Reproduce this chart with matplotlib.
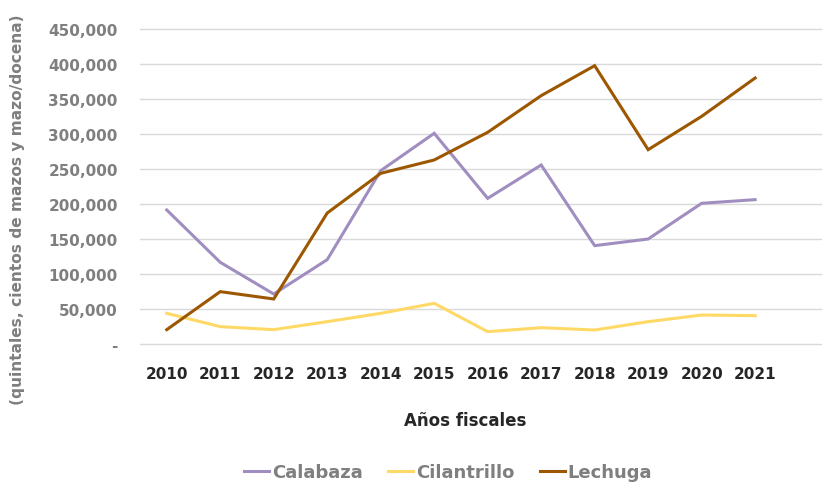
import matplotlib
matplotlib.use("Agg")
import matplotlib.pyplot as plt
from matplotlib.ticker import FuncFormatter

# Series data (fiscal years)
years = ["2010", "2011", "2012", "2013", "2014", "2015",
         "2016", "2017", "2018", "2019", "2020", "2021"]
calabaza = [191500, 116700, 71400, 120500, 247600, 301000,
            208100, 255700, 140500, 150000, 201000, 206200]
cilantrillo = [43800, 24800, 20500, 31900, 43800, 58100,
               17600, 23300, 20000, 31900, 41400, 40500]
lechuga = [20500, 74800, 64300, 187100, 243800, 262900,
           302400, 354800, 397600, 277600, 325200, 380000]

series_names = ["Calabaza", "Cilantrillo", "Lechuga"]
series_colors = ["#A08EC0", "#FFD966", "#9C5700"]

plt.rcParams["font.family"] = ["DejaVu Sans"]
plt.rcParams["font.weight"] = "bold"

fig = plt.figure(figsize=(8.22, 4.85), dpi=100)
ax = fig.add_axes([140 / 822, 1 - 345 / 485, 1 - 140 / 822, 315 / 485])

x = list(range(len(years)))
for vals, name, color in zip([calabaza, cilantrillo, lechuga], series_names, series_colors):
    ax.plot(x, vals, color=color, linewidth=2.2, label=name, solid_joinstyle="miter")

ax.set_ylim(0, 450000)
ax.set_yticks(range(0, 450001, 50000))
ax.yaxis.set_major_formatter(FuncFormatter(lambda v, p: "-" if v == 0 else f"{int(v):,}"))
ax.set_xlim(-0.5, 12.25)
ax.set_xticks(x)
ax.set_xticklabels(years)

ax.grid(axis="y", color="#d9d9d9", linewidth=1.0)
for gl in ax.get_ygridlines():
    gl.set_clip_on(False)
ax.set_axisbelow(True)
for s in ax.spines.values():
    s.set_visible(False)

ax.tick_params(axis="y", length=0, pad=16, labelsize=11, labelcolor="#7f7f7f")
ax.tick_params(axis="x", length=0, pad=16, labelsize=11, labelcolor="#262626")
for lbl in ax.get_xticklabels() + ax.get_yticklabels():
    lbl.set_fontweight("bold")

fig.text(465 / 822, 1 - 421 / 485, "Años fiscales", ha="center", va="center",
         fontsize=12, fontweight="bold", color="#262626")
fig.text(18 / 822, 1 - 210 / 485, "(quintales, cientos de mazos y mazo/docena)",
         rotation=90, ha="center", va="center", fontsize=11.1, fontweight="bold",
         color="#7f7f7f")

leg = fig.legend(loc="center", bbox_to_anchor=(448 / 822, 1 - 473 / 485), ncol=3,
                 frameon=False, fontsize=13, handlelength=1.4, handletextpad=0.15,
                 columnspacing=1.4)
for t in leg.get_texts():
    t.set_color("#7f7f7f")
    t.set_fontweight("bold")

fig.savefig("out.png", dpi=100)
